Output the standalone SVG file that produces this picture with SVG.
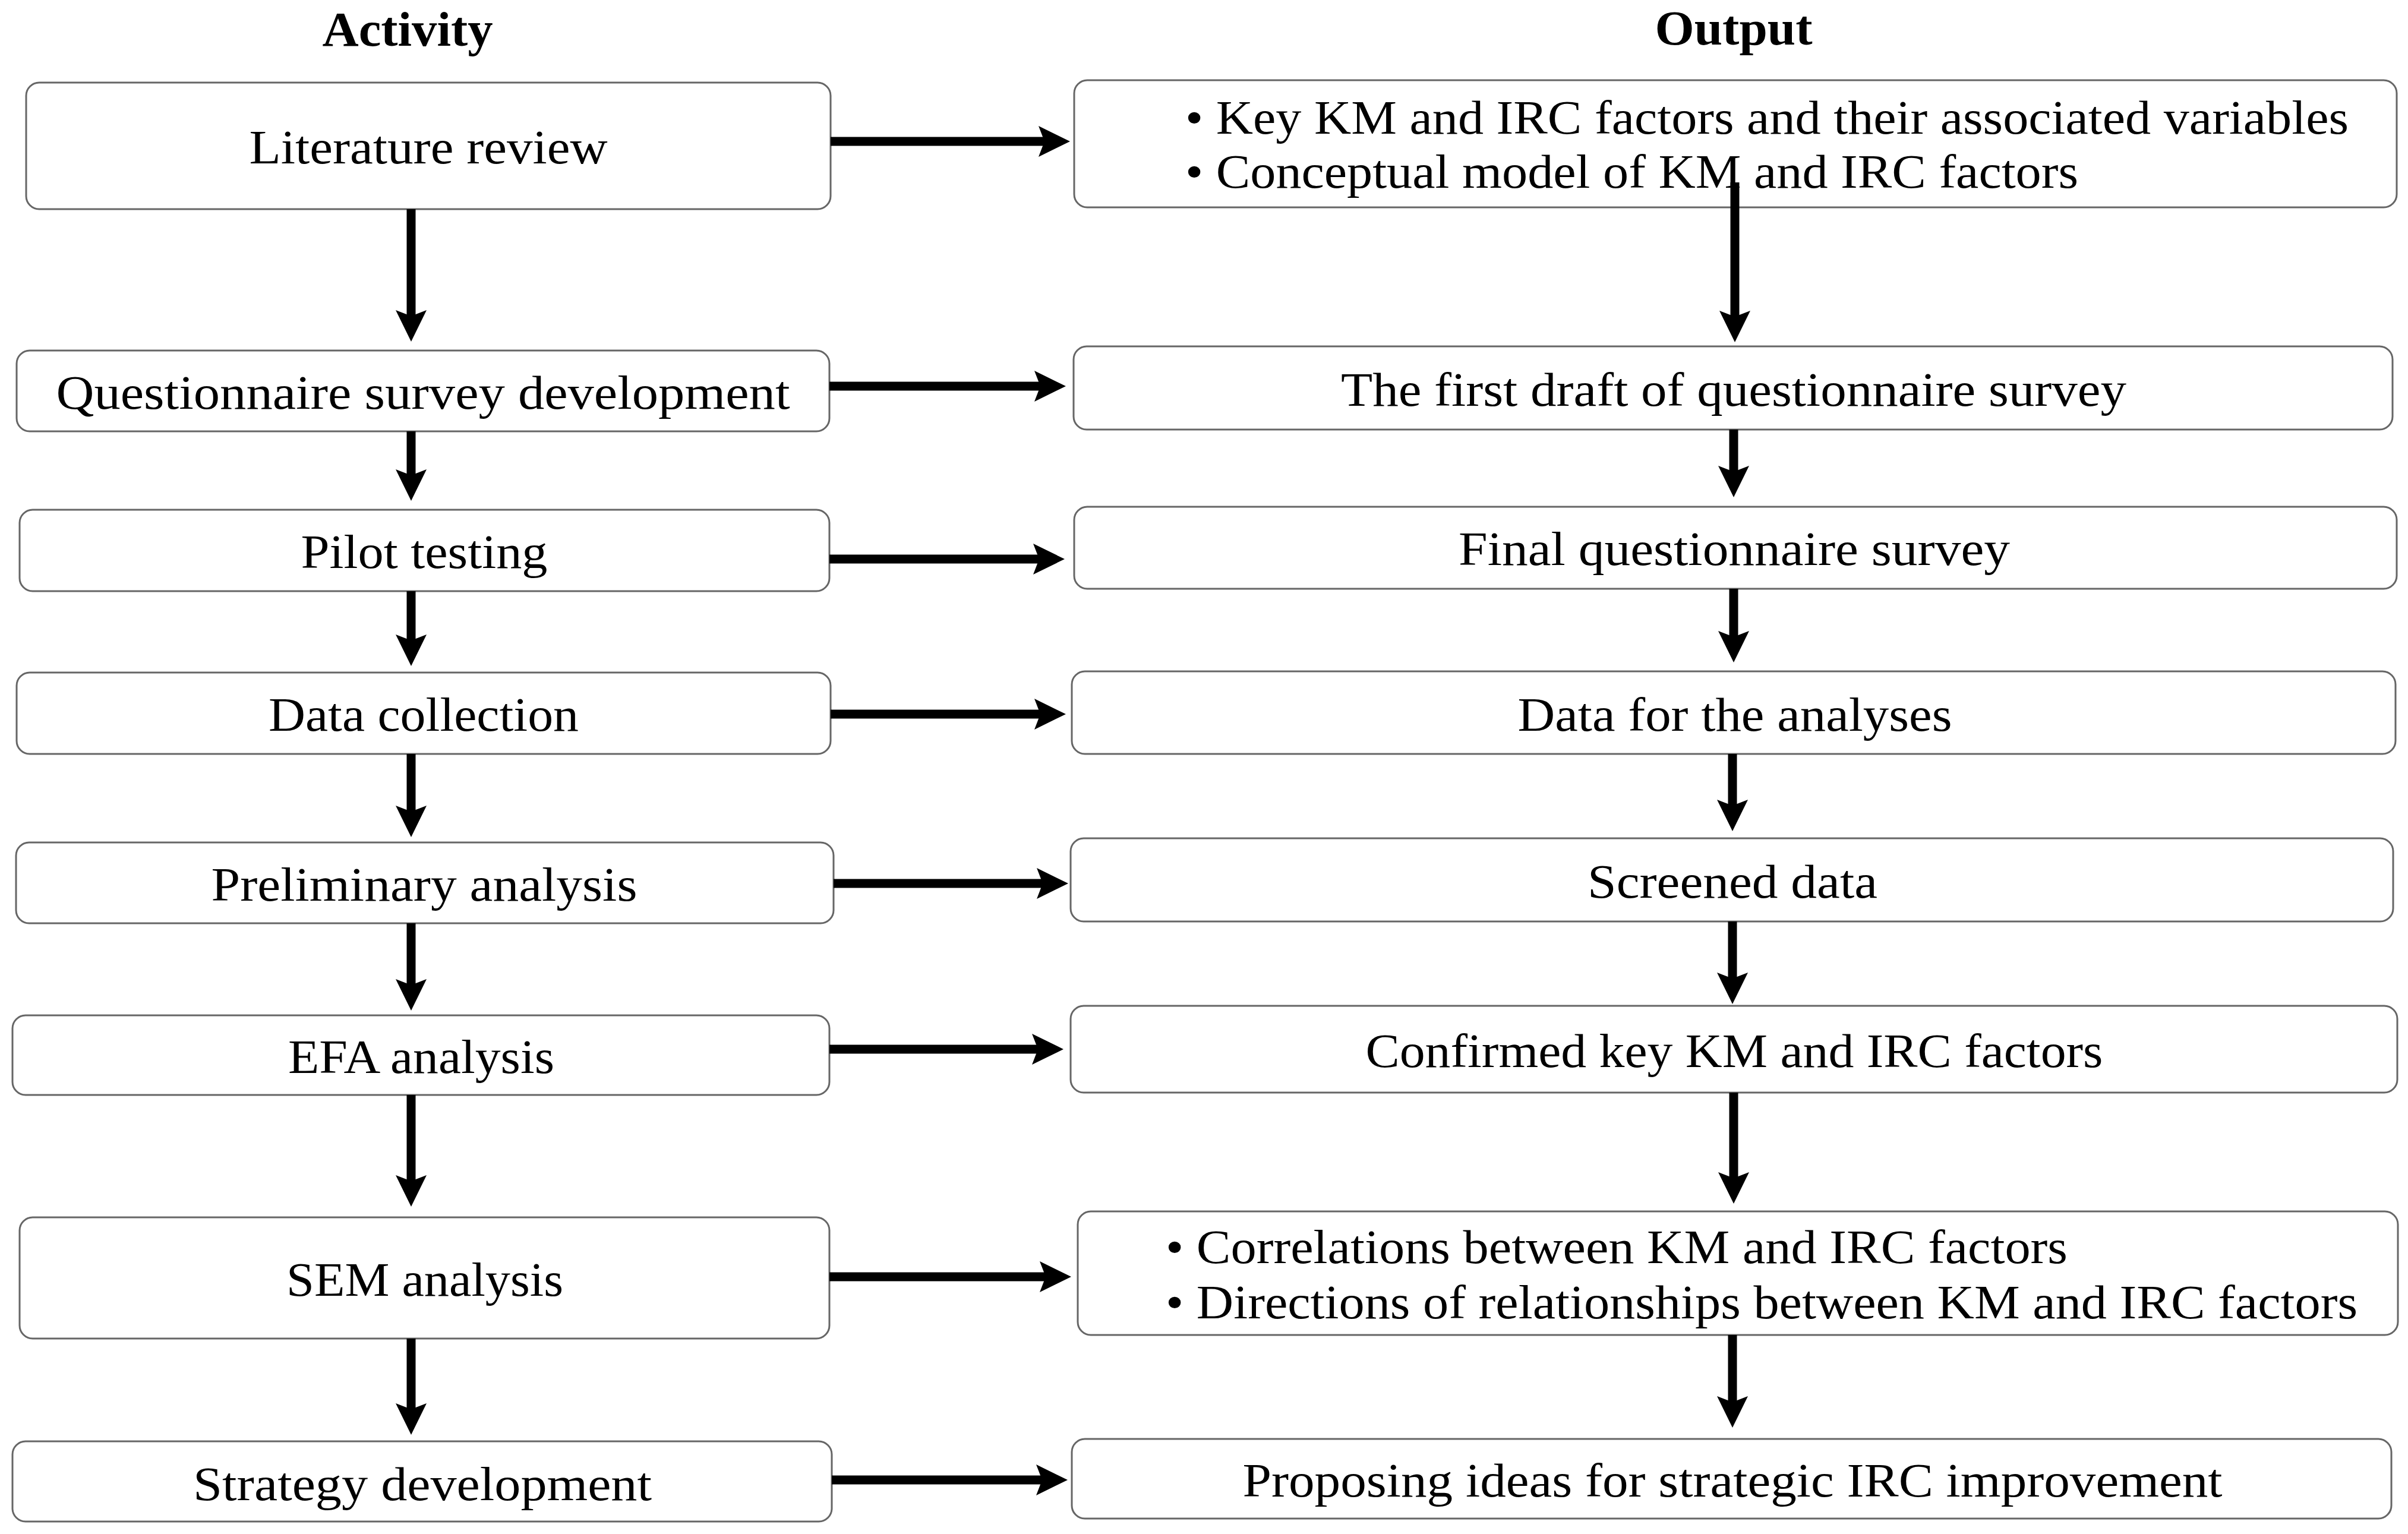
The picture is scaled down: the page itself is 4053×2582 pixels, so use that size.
<svg xmlns="http://www.w3.org/2000/svg" width="4053" height="2582" viewBox="0 0 4053 2582">
<style>
.box{fill:#ffffff;stroke:#666666;stroke-width:3}
.t{font-family:"Liberation Serif","Times New Roman",serif;font-size:80px;fill:#000000}
.m{text-anchor:middle}
.h{font-family:"Liberation Serif","Times New Roman",serif;font-size:82px;font-weight:bold;fill:#000000;text-anchor:middle}
.c{stroke:#000000;stroke-width:15;fill:none}
</style>
<defs>
<marker id="ah" markerUnits="userSpaceOnUse" markerWidth="54" markerHeight="54" viewBox="0 0 54 54" refX="10" refY="27" orient="auto">
<path d="M0,1 L53,27 L0,53 L10,27 Z" fill="#000000"/>
</marker>
</defs>
<rect width="4053" height="2582" fill="#ffffff"/>
<text class="h" x="686" y="77" textLength="287" lengthAdjust="spacingAndGlyphs">Activity</text>
<text class="h" x="2918" y="75" textLength="265" lengthAdjust="spacingAndGlyphs">Output</text>
<g id="a1"><rect class="box" x="44" y="139" width="1354" height="213" rx="22"/><text class="t m" x="721" y="275" textLength="603" lengthAdjust="spacingAndGlyphs">Literature review</text></g>
<g id="a2"><rect class="box" x="28" y="590" width="1368" height="136" rx="22"/><text class="t m" x="712" y="688" textLength="1235" lengthAdjust="spacingAndGlyphs">Questionnaire survey development</text></g>
<g id="a3"><rect class="box" x="33" y="858" width="1363" height="137" rx="22"/><text class="t m" x="714" y="956" textLength="415" lengthAdjust="spacingAndGlyphs">Pilot testing</text></g>
<g id="a4"><rect class="box" x="28" y="1132" width="1370" height="137" rx="22"/><text class="t m" x="713" y="1230" textLength="522" lengthAdjust="spacingAndGlyphs">Data collection</text></g>
<g id="a5"><rect class="box" x="27" y="1418" width="1376" height="136" rx="22"/><text class="t m" x="714" y="1516" textLength="717" lengthAdjust="spacingAndGlyphs">Preliminary analysis</text></g>
<g id="a6"><rect class="box" x="21" y="1709" width="1375" height="134" rx="22"/><text class="t m" x="709" y="1806" textLength="448" lengthAdjust="spacingAndGlyphs">EFA analysis</text></g>
<g id="a7"><rect class="box" x="33" y="2049" width="1363" height="204" rx="22"/><text class="t m" x="715" y="2181" textLength="466" lengthAdjust="spacingAndGlyphs">SEM analysis</text></g>
<g id="a8"><rect class="box" x="21" y="2426" width="1379" height="135" rx="22"/><text class="t m" x="711" y="2525" textLength="772" lengthAdjust="spacingAndGlyphs">Strategy development</text></g>
<g id="o1"><rect class="box" x="1808" y="135" width="2226" height="214" rx="22"/>
<text class="t" x="1995" y="225" textLength="1958" lengthAdjust="spacingAndGlyphs">• Key KM and IRC factors and their associated variables</text>
<text class="t" x="1995" y="316" textLength="1503" lengthAdjust="spacingAndGlyphs">• Conceptual model of KM and IRC factors</text></g>
<g id="o2"><rect class="box" x="1807" y="583" width="2220" height="140" rx="22"/><text class="t m" x="2918" y="683" textLength="1322" lengthAdjust="spacingAndGlyphs">The first draft of questionnaire survey</text></g>
<g id="o3"><rect class="box" x="1808" y="853" width="2226" height="138" rx="22"/><text class="t m" x="2919" y="951" textLength="928" lengthAdjust="spacingAndGlyphs">Final questionnaire survey</text></g>
<g id="o4"><rect class="box" x="1804" y="1130" width="2228" height="139" rx="22"/><text class="t m" x="2920" y="1230" textLength="731" lengthAdjust="spacingAndGlyphs">Data for the analyses</text></g>
<g id="o5"><rect class="box" x="1802" y="1411" width="2226" height="140" rx="22"/><text class="t m" x="2916" y="1511" textLength="488" lengthAdjust="spacingAndGlyphs">Screened data</text></g>
<g id="o6"><rect class="box" x="1802" y="1693" width="2233" height="146" rx="22"/><text class="t m" x="2919" y="1796" textLength="1241" lengthAdjust="spacingAndGlyphs">Confirmed key KM and IRC factors</text></g>
<g id="o7"><rect class="box" x="1814" y="2039" width="2222" height="208" rx="22"/>
<text class="t" x="1962" y="2126" textLength="1518" lengthAdjust="spacingAndGlyphs">• Correlations between KM and IRC factors</text>
<text class="t" x="1962" y="2219" textLength="2006" lengthAdjust="spacingAndGlyphs">• Directions of relationships between KM and IRC factors</text></g>
<g id="o8"><rect class="box" x="1804" y="2422" width="2221" height="134" rx="22"/><text class="t m" x="2916" y="2519" textLength="1649" lengthAdjust="spacingAndGlyphs">Proposing ideas for strategic IRC improvement</text></g>
<g id="connectors">
<line class="c" x1="1398" y1="238" x2="1758" y2="238" marker-end="url(#ah)"/>
<line class="c" x1="1396" y1="650" x2="1751" y2="650" marker-end="url(#ah)"/>
<line class="c" x1="1396" y1="941" x2="1749" y2="941" marker-end="url(#ah)"/>
<line class="c" x1="1398" y1="1202" x2="1751" y2="1202" marker-end="url(#ah)"/>
<line class="c" x1="1403" y1="1487" x2="1755" y2="1487" marker-end="url(#ah)"/>
<line class="c" x1="1396" y1="1766" x2="1747" y2="1766" marker-end="url(#ah)"/>
<line class="c" x1="1396" y1="2149" x2="1760" y2="2149" marker-end="url(#ah)"/>
<line class="c" x1="1400" y1="2491" x2="1754" y2="2491" marker-end="url(#ah)"/>
<line class="c" x1="692" y1="352" x2="692" y2="532" marker-end="url(#ah)"/>
<line class="c" x1="692" y1="726" x2="692" y2="800" marker-end="url(#ah)"/>
<line class="c" x1="692" y1="995" x2="692" y2="1078" marker-end="url(#ah)"/>
<line class="c" x1="692" y1="1269" x2="692" y2="1366" marker-end="url(#ah)"/>
<line class="c" x1="692" y1="1554" x2="692" y2="1658" marker-end="url(#ah)"/>
<line class="c" x1="692" y1="1843" x2="692" y2="1988" marker-end="url(#ah)"/>
<line class="c" x1="692" y1="2253" x2="692" y2="2372" marker-end="url(#ah)"/>
<line class="c" x1="2920" y1="307" x2="2920" y2="533" marker-end="url(#ah)"/>
<line class="c" x1="2918" y1="723" x2="2918" y2="794" marker-end="url(#ah)"/>
<line class="c" x1="2918" y1="991" x2="2918" y2="1072" marker-end="url(#ah)"/>
<line class="c" x1="2916" y1="1269" x2="2916" y2="1356" marker-end="url(#ah)"/>
<line class="c" x1="2916" y1="1551" x2="2916" y2="1647" marker-end="url(#ah)"/>
<line class="c" x1="2918" y1="1839" x2="2918" y2="1983" marker-end="url(#ah)"/>
<line class="c" x1="2916" y1="2247" x2="2916" y2="2360" marker-end="url(#ah)"/>
</g>
</svg>
